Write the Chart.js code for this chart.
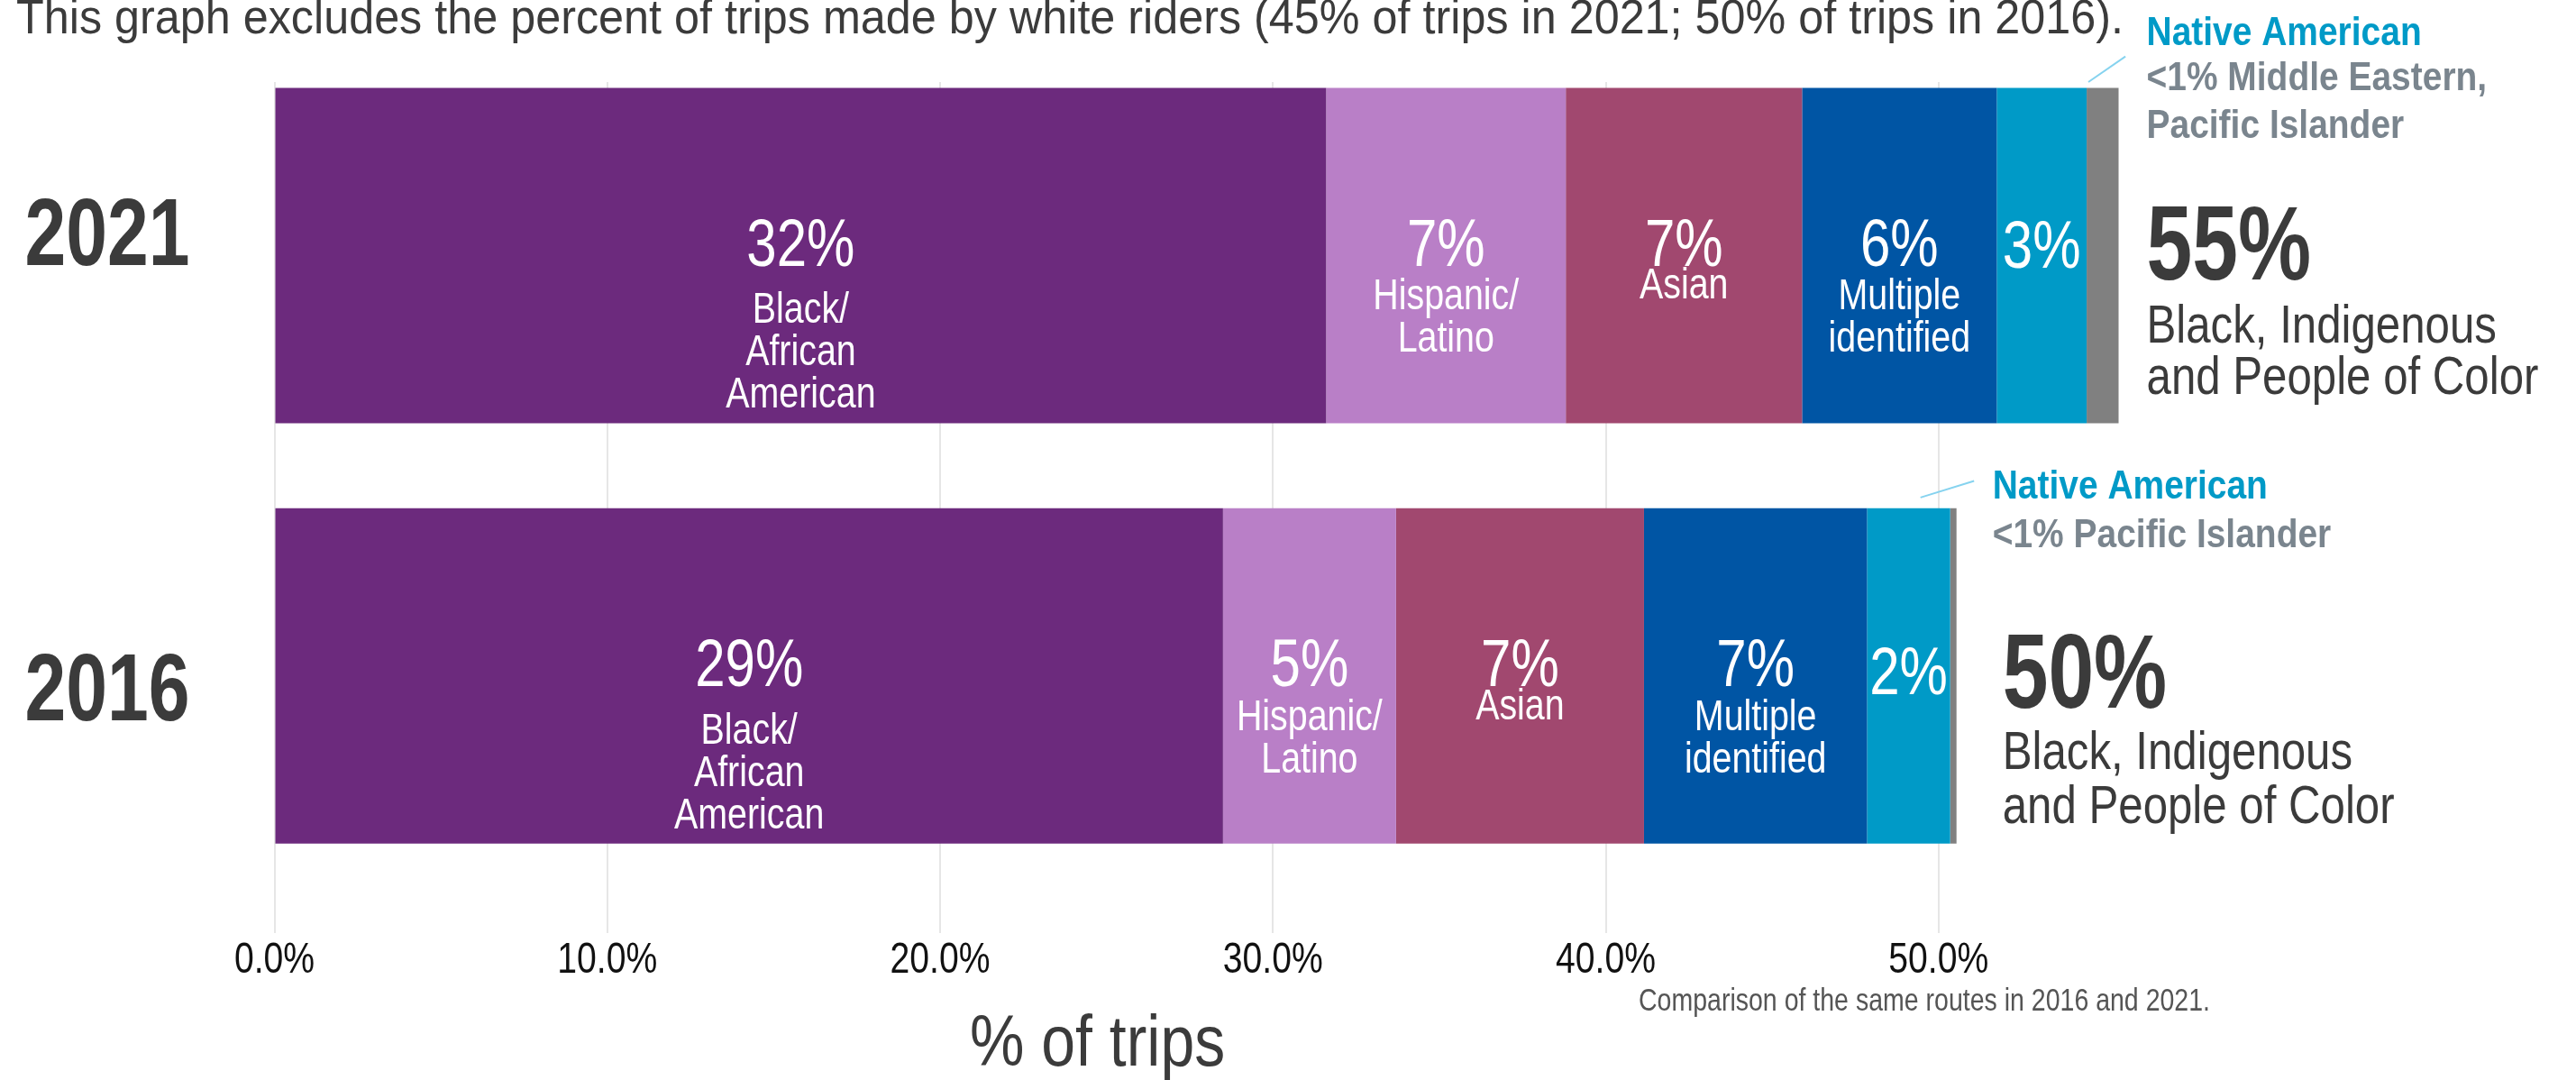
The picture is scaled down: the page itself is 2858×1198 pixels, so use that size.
<!DOCTYPE html>
<html>
<head>
<meta charset="utf-8">
<script src="https://cdn.jsdelivr.net/npm/chart.js@4/dist/chart.umd.min.js"></script>
<style>
  html, body { margin: 0; padding: 0; background: #ffffff; }
  #wrap { width: 2858px; height: 1198px; position: relative; }
</style>
</head>
<body>
<div id="wrap"><canvas id="c" width="2858" height="1198"></canvas></div>
<script>
// ---------------- DATA ----------------
const categories = ['2021', '2016'];
const seriesNames = ['Black/African American', 'Hispanic/Latino', 'Asian', 'Multiple identified', 'Native American', 'Middle Eastern / Pacific Islander'];
const blackAfricanAmerican = [31.6, 28.5];
const hispanicLatino = [7.2, 5.2];
const asian = [7.1, 7.45];
const multipleIdentified = [5.85, 6.7];
const nativeAmerican = [2.7, 2.5];
const otherUnder1 = [0.96, 0.19];

const blackLabels = ['32%', '29%'];
const hispanicLabels = ['7%', '5%'];
const asianLabels = ['7%', '7%'];
const multipleLabels = ['6%', '7%'];
const nativeLabels = ['3%', '2%'];

const blackName = ['Black/', 'African', 'American'];
const hispanicName = ['Hispanic/', 'Latino'];
const asianName = ['Asian'];
const multipleName = ['Multiple', 'identified'];

const totalLabels = ['55%', '50%'];
const totalCaption = ['Black, Indigenous', 'and People of Color'];
const nativeNote = 'Native American';
const otherNotes = [['<1% Middle Eastern,', 'Pacific Islander'], ['<1% Pacific Islander']];

const xTickValues = [0, 10, 20, 30, 40, 50];
const xTickLabels = ['0.0%', '10.0%', '20.0%', '30.0%', '40.0%', '50.0%'];

const titleText = 'This graph excludes the percent of trips made by white riders (45% of trips in 2021; 50% of trips in 2016).';
const axisTitle = '% of trips';
const footnote = 'Comparison of the same routes in 2016 and 2021.';

// ---------------- STYLE ----------------
const FONT = '"Liberation Sans", Arial, sans-serif';
const DARK = '#3b3b3b';
const colors = ['#6c2a7d', '#b97fc7', '#a1486f', '#0055a4', '#009ac7', '#808080'];
const TICK_SX = { x: 0.815, y: 0.776 };
const yearLabelShift = [-0.041, 0.044];
// in-bar label offsets (baseline relative to bar centre)
const pctDy = [[11.5, 11.5], [11.5, 11.5], [11.5, 11.5], [11.5, 11.5], [13.5, 20.5]];
const nameDy = [75, 60, 48, 60];
const nameLineH = 47;
// right-side annotation offsets per row
const noteDx = [31, 40];
const totalDx = [31, 51];
const noteBase = [[-233, -183, -130], [-196.5, -142.5]];
const totalBase = [27, 35.5];
const captionBase = [[97, 154], [103.5, 163.5]];
const leader = [[-33.5, -192.5, 7.6, -220.9], [-40, -197.8, 19.5, -216.2]];

// Linear scale whose tick labels are drawn horizontally condensed
class CondensedLinearScale extends Chart.LinearScale {
  drawLabels(chartArea) {
    const sx = TICK_SX[this.axis] || 1;
    const items = this.getLabelItems(chartArea);
    const orig = items.map(it => it.options.translation[0]);
    items.forEach(it => { it.options.translation[0] = it.options.translation[0] / sx; });
    this.ctx.save();
    this.ctx.scale(sx, 1);
    super.drawLabels(chartArea);
    this.ctx.restore();
    items.forEach((it, i) => { it.options.translation[0] = orig[i]; });
  }
}
CondensedLinearScale.id = 'condensedLinear';
CondensedLinearScale.defaults = Chart.LinearScale.defaults;
Chart.register(CondensedLinearScale);

function pts(arr) { return arr.map((v, i) => ({ x: v, y: i })); }

const datasets = [
  { label: seriesNames[0], data: pts(blackAfricanAmerican), pct: blackLabels, lines: blackName },
  { label: seriesNames[1], data: pts(hispanicLatino), pct: hispanicLabels, lines: hispanicName },
  { label: seriesNames[2], data: pts(asian), pct: asianLabels, lines: asianName },
  { label: seriesNames[3], data: pts(multipleIdentified), pct: multipleLabels, lines: multipleName },
  { label: seriesNames[4], data: pts(nativeAmerican), pct: nativeLabels, lines: [] },
  { label: seriesNames[5], data: pts(otherUnder1), pct: null, lines: [] }
].map((d, i) => Object.assign(d, {
  backgroundColor: colors[i], borderWidth: 0, barPercentage: 0.798, categoryPercentage: 1.0
}));

function drawText(ctx, text, x, y, font, color, align, sx, width) {
  ctx.save();
  ctx.font = font;
  ctx.fillStyle = color;
  ctx.textBaseline = 'alphabetic';
  ctx.textAlign = align || 'left';
  let s = sx || 1;
  if (width) s = width / ctx.measureText(text).width;
  ctx.translate(x, y);
  ctx.scale(s, 1);
  ctx.fillText(text, 0, 0);
  ctx.restore();
}

const labelPlugin = {
  id: 'barLabels',
  afterDatasetsDraw(chart) {
    const ctx = chart.ctx;
    chart.data.datasets.forEach((ds, di) => {
      if (!ds.pct) return;
      const meta = chart.getDatasetMeta(di);
      meta.data.forEach((bar, j) => {
        const cx = (bar.x + bar.base) / 2;
        const cy = bar.y;
        drawText(ctx, ds.pct[j], cx, cy + pctDy[di][j], '75px ' + FONT, '#ffffff', 'center', 0.8);
        ds.lines.forEach((ln, k) => {
          drawText(ctx, ln, cx, cy + nameDy[di] + k * nameLineH, '48px ' + FONT, '#ffffff', 'center', 0.82);
        });
      });
    });
  },
  afterDraw(chart) {
    const ctx = chart.ctx;
    const last = chart.getDatasetMeta(chart.data.datasets.length - 1);
    const xs = chart.scales.x;
    categories.forEach((c, j) => {
      const bar = last.data[j];
      const ex = bar.x, cy = bar.y;
      const L = leader[j];
      ctx.save();
      ctx.strokeStyle = '#86d3ef';
      ctx.lineWidth = 2;
      ctx.beginPath();
      ctx.moveTo(ex + L[0], cy + L[1]);
      ctx.lineTo(ex + L[2], cy + L[3]);
      ctx.stroke();
      ctx.restore();
      drawText(ctx, nativeNote, ex + noteDx[j], cy + noteBase[j][0], 'bold 44px ' + FONT, '#009ac7', 'left', 0.885);
      otherNotes[j].forEach((t, k) => {
        drawText(ctx, t, ex + noteDx[j], cy + noteBase[j][k + 1], 'bold 44px ' + FONT, '#7a858e', 'left', 0.885);
      });
      drawText(ctx, totalLabels[j], ex + totalDx[j], cy + totalBase[j], 'bold 116px ' + FONT, DARK, 'left', 0.786);
      totalCaption.forEach((t, k) => {
        drawText(ctx, t, ex + totalDx[j], cy + captionBase[j][k], '60px ' + FONT, DARK, 'left', 0.82);
      });
    });
    drawText(ctx, titleText, 18, 37, '54px ' + FONT, DARK, 'left', 1, 2338);
    const mid = (xs.getPixelForValue(xTickValues[0]) + xs.getPixelForValue(xTickValues[xTickValues.length - 1])) / 2;
    drawText(ctx, axisTitle, mid - 10, 1182, '79px ' + FONT, DARK, 'center', 0.86);
    drawText(ctx, footnote, 1818, 1121, '35px ' + FONT, '#555555', 'left', 1, 634);
  }
};

new Chart(document.getElementById('c'), {
  type: 'bar',
  data: { datasets },
  options: {
    indexAxis: 'y',
    responsive: false,
    animation: false,
    layout: { padding: { top: 91, right: 338, left: 0, bottom: 0 } },
    plugins: { legend: { display: false }, tooltip: { enabled: false } },
    scales: {
      x: {
        type: 'condensedLinear', stacked: true, min: 0, max: 60, offset: false,
        grid: { color: '#e6e6e6', lineWidth: 2, drawTicks: false },
        border: { display: false },
        ticks: {
          font: { family: FONT, size: 48 }, color: '#111111', padding: 2,
          callback: (v) => { const i = xTickValues.indexOf(v); return i >= 0 ? xTickLabels[i] : ''; }
        },
        afterBuildTicks: (s) => { s.ticks = xTickValues.map(v => ({ value: v })); },
        afterFit: (s) => { s.height = 163; s.paddingLeft = 0; s.paddingRight = 0; }
      },
      y: {
        type: 'condensedLinear', stacked: true, reverse: true, min: -0.4128, max: 1.612, offset: false,
        grid: { display: false, drawTicks: false },
        border: { display: false },
        ticks: {
          font: { family: FONT, size: 106, weight: 'bold' }, color: DARK, padding: 94,
          callback: (v) => categories[Math.round(v)]
        },
        afterBuildTicks: (s) => { s.ticks = categories.map((c, i) => ({ value: i + yearLabelShift[i] })); },
        afterFit: (s) => { s.width = 304.5; s.paddingTop = 0; s.paddingBottom = 0; }
      }
    }
  },
  plugins: [labelPlugin]
});
</script>
</body>
</html>
